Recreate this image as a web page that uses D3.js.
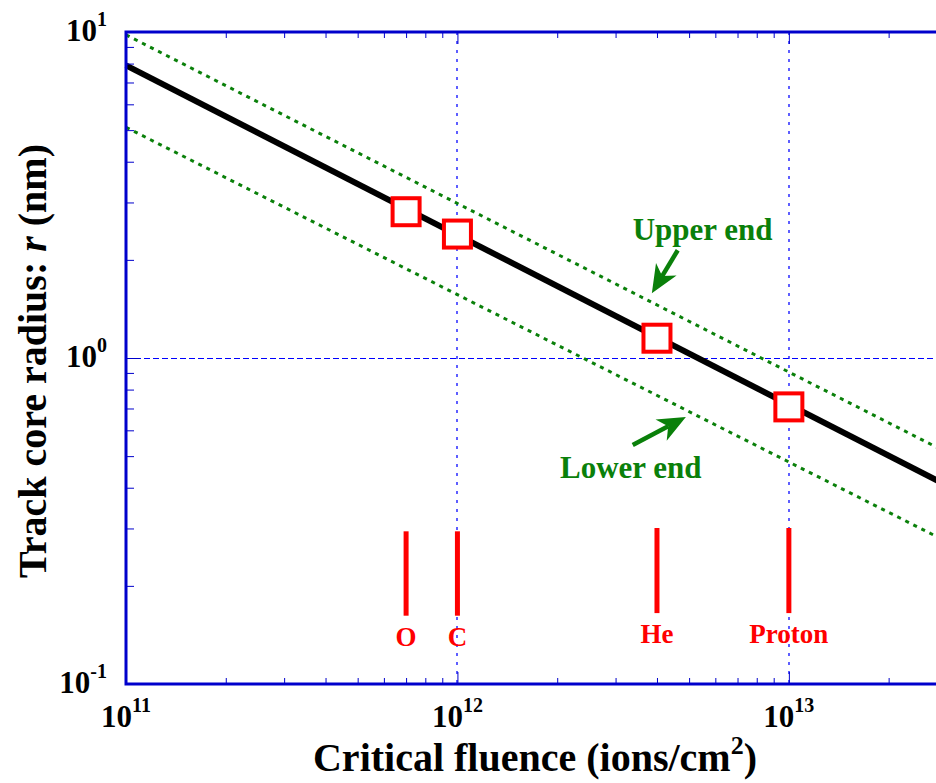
<!DOCTYPE html>
<html>
<head>
<meta charset="utf-8">
<script src="https://cdn.jsdelivr.net/npm/d3@7"></script>
<style>
  body { margin: 0; overflow: hidden; background: #fff; }
  text { font-family: "Liberation Serif", "Times New Roman", serif; font-weight: bold; }
</style>
</head>
<body>
<div id="chart"></div>
<script>
// fitted track core radius vs critical fluence (ends of the visible range)
var fluenceLine = [1e11, 3e13];
var radiusFit = [7.9, 0.406];
var radiusUpper = [9.8, 0.513];
var radiusLower = [5.1, 0.273];

// measured points for each ion
var ions = ["O", "C", "He", "Proton"];
var critFluence = [7e11, 1e12, 4e12, 1e13];
var coreRadius = [2.81, 2.40, 1.15, 0.708];
// red marker bars under each ion
var barTop = [0.294, 0.294, 0.301, 0.301];
var barBottom = [0.162, 0.162, 0.165, 0.165];

// tick labels (decades)
var xTicks = [1e11, 1e12, 1e13];
var xTickExp = ["11", "12", "13"];
var yTicks = [0.1, 1, 10];
var yTickExp = ["-1", "0", "1"];

// annotations: text position, arrow tail, arrow tip (data units)
var upperNote = { label: "Upper end", tx: 3.38e12, ty: 2.30, ax: 4.62e12, ay: 2.14, bx: 3.86e12, by: 1.58 };
var lowerNote = { label: "Lower end", tx: 2.04e12, ty: 0.428, ax: 3.38e12, ay: 0.541, bx: 4.89e12, by: 0.659 };

var W = 936, H = 783;
var margin = { top: 32, left: 126 };
var plotW = 821, plotH = 652;

var blue = "#0000cc", green = "#0a800a", red = "#ff0000";

var svg = d3.select("#chart")
    .append("svg")
    .attr("width", W)
    .attr("height", H);

var x = d3.scaleLog().domain([1e11, 3e13]).range([margin.left, margin.left + plotW]);
var y = d3.scaleLog().domain([0.1, 10]).range([margin.top + plotH, margin.top]);

// minor tick values
var xMinor = [], yMinor = [];
[1e11, 1e12, 1e13].forEach(function (d) {
    for (var k = 2; k <= 9; k++) if (d * k <= 3e13) xMinor.push(d * k);
});
[0.1, 1].forEach(function (d) {
    for (var k = 2; k <= 9; k++) yMinor.push(d * k);
});

// grid lines
svg.append("g").selectAll("line")
    .data([1e12, 1e13])
    .enter().append("line")
    .attr("x1", function (d) { return Math.round(x(d)); })
    .attr("x2", function (d) { return Math.round(x(d)); })
    .attr("y1", y(10))
    .attr("y2", y(0.1))
    .attr("stroke", "#1a1aff")
    .attr("stroke-width", 1.4)
    .attr("stroke-dasharray", "3,6");

svg.append("line")
    .attr("x1", x(1e11))
    .attr("x2", x(3e13))
    .attr("y1", Math.round(y(1)) + 0.5)
    .attr("y2", Math.round(y(1)) + 0.5)
    .attr("stroke", "#0000ff")
    .attr("stroke-width", 1)
    .attr("stroke-dasharray", "6,3");

var line = d3.line()
    .x(function (d) { return x(d[0]); })
    .y(function (d) { return y(d[1]); });

// upper / lower bounds
[radiusUpper, radiusLower].forEach(function (r) {
    svg.append("path")
        .datum(fluenceLine.map(function (f, i) { return [f, r[i]]; }))
        .attr("d", line)
        .attr("fill", "none")
        .attr("stroke", green)
        .attr("stroke-width", 3)
        .attr("stroke-dasharray", "4,5");
});

// fit line
svg.append("path")
    .datum(fluenceLine.map(function (f, i) { return [f, radiusFit[i]]; }))
    .attr("d", line)
    .attr("fill", "none")
    .attr("stroke", "black")
    .attr("stroke-width", 6);

// squares
svg.append("g").selectAll("rect")
    .data(ions)
    .enter().append("rect")
    .attr("x", function (d, i) { return x(critFluence[i]) - 13.5; })
    .attr("y", function (d, i) { return y(coreRadius[i]) - 13.5; })
    .attr("width", 27)
    .attr("height", 27)
    .attr("fill", "white")
    .attr("stroke", red)
    .attr("stroke-width", 4);

// red bars and ion labels
svg.append("g").selectAll("line")
    .data(ions)
    .enter().append("line")
    .attr("x1", function (d, i) { return x(critFluence[i]); })
    .attr("x2", function (d, i) { return x(critFluence[i]); })
    .attr("y1", function (d, i) { return y(barTop[i]); })
    .attr("y2", function (d, i) { return y(barBottom[i]); })
    .attr("stroke", red)
    .attr("stroke-width", 5);

svg.append("g").selectAll("text")
    .data(ions)
    .enter().append("text")
    .attr("x", function (d, i) { return x(critFluence[i]); })
    .attr("y", function (d, i) { return y(barBottom[i]) + 30; })
    .attr("text-anchor", "middle")
    .style("font-size", "27px")
    .style("fill", red)
    .text(function (d) { return d; });

// annotations with arrows
[upperNote, lowerNote].forEach(function (n) {
    svg.append("text")
        .attr("x", x(n.tx))
        .attr("y", y(n.ty))
        .style("font-size", "31px")
        .style("fill", green)
        .text(n.label);

    var x0 = x(n.ax), y0 = y(n.ay), x1 = x(n.bx), y1 = y(n.by);
    var dx = x1 - x0, dy = y1 - y0, len = Math.sqrt(dx * dx + dy * dy);
    var ux = dx / len, uy = dy / len, px = -uy, py = ux;
    var headL = 28, headW = 12, notch = 8;
    var bx = x1 - ux * headL, by = y1 - uy * headL;
    svg.append("line")
        .attr("x1", x0).attr("y1", y0)
        .attr("x2", x1 - ux * (headL - notch)).attr("y2", y1 - uy * (headL - notch))
        .attr("stroke", green)
        .attr("stroke-width", 4.5);
    svg.append("path")
        .attr("d", "M" + x1 + "," + y1 +
            "L" + (bx + px * headW) + "," + (by + py * headW) +
            "L" + (x1 - ux * (headL - notch)) + "," + (y1 - uy * (headL - notch)) +
            "L" + (bx - px * headW) + "," + (by - py * headW) + "Z")
        .attr("fill", green);
});

// axes: minor ticks inside, thick blue frame
function styleAxis(g) {
    g.select(".domain").remove();
    g.selectAll(".tick line").attr("stroke", blue).attr("stroke-width", 1);
}
svg.append("g")
    .attr("transform", "translate(0," + (margin.top + plotH) + ")")
    .call(d3.axisBottom(x).tickValues(xMinor).tickSize(-6).tickFormat(""))
    .call(styleAxis);
svg.append("g")
    .attr("transform", "translate(0," + (margin.top + plotH) + ")")
    .call(d3.axisBottom(x).tickValues(xTicks).tickSize(-12).tickFormat(""))
    .call(styleAxis);
svg.append("g")
    .attr("transform", "translate(0," + margin.top + ")")
    .call(d3.axisTop(x).tickValues(xMinor).tickSize(-6).tickFormat(""))
    .call(styleAxis);
svg.append("g")
    .attr("transform", "translate(0," + margin.top + ")")
    .call(d3.axisTop(x).tickValues(xTicks).tickSize(-12).tickFormat(""))
    .call(styleAxis);
svg.append("g")
    .attr("transform", "translate(" + margin.left + ",0)")
    .call(d3.axisLeft(y).tickValues(yMinor).tickSize(-8).tickFormat(""))
    .call(styleAxis);
svg.append("g")
    .attr("transform", "translate(" + margin.left + ",0)")
    .call(d3.axisLeft(y).tickValues(yTicks).tickSize(-14).tickFormat(""))
    .call(styleAxis);
svg.append("g")
    .attr("transform", "translate(" + (margin.left + plotW) + ",0)")
    .call(d3.axisRight(y).tickValues(yMinor).tickSize(-8).tickFormat(""))
    .call(styleAxis);

svg.append("rect")
    .attr("x", margin.left)
    .attr("y", margin.top)
    .attr("width", plotW)
    .attr("height", plotH)
    .attr("fill", "none")
    .attr("stroke", blue)
    .attr("stroke-width", 3);

// tick labels with superscripts
var xl = svg.append("g").selectAll("text")
    .data(xTicks)
    .enter().append("text")
    .attr("x", function (d) { return x(d); })
    .attr("y", margin.top + plotH + 43)
    .attr("text-anchor", "middle")
    .style("font-size", "31px");
xl.append("tspan").text("10");
xl.append("tspan")
    .attr("dy", -15)
    .style("font-size", "20px")
    .text(function (d, i) { return xTickExp[i]; });

var yl = svg.append("g").selectAll("text")
    .data(yTicks)
    .enter().append("text")
    .attr("x", 107)
    .attr("y", function (d) { return y(d) + 9; })
    .attr("text-anchor", "end")
    .style("font-size", "31px");
yl.append("tspan").text("10");
yl.append("tspan")
    .attr("dy", -15)
    .style("font-size", "20px")
    .text(function (d, i) { return yTickExp[i]; });

// axis titles
var xt = svg.append("text")
    .attr("x", 535)
    .attr("y", 771)
    .attr("text-anchor", "middle")
    .style("font-size", "40px");
xt.append("tspan").text("Critical fluence (ions/cm");
xt.append("tspan").attr("dy", -17).style("font-size", "26px").text("2");
xt.append("tspan").attr("dy", 17).text(")");

var yt = svg.append("text")
    .attr("transform", "translate(46,361) rotate(-90)")
    .attr("text-anchor", "middle")
    .style("font-size", "40px");
yt.append("tspan").text("Track core radius: ");
yt.append("tspan").style("font-style", "italic").text("r");
yt.append("tspan").text(" (nm)");
</script>
</body>
</html>
